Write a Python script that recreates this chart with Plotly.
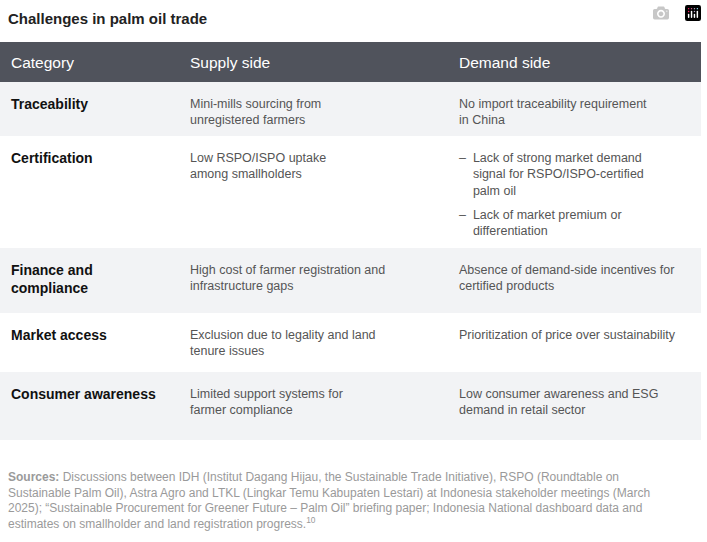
import plotly.graph_objects as go

title = "Challenges in palm oil trade"
headers = ["Category", "Supply side", "Demand side"]
categories = ["Traceability", "Certification", "Finance and<br>compliance", "Market access", "Consumer awareness"]
supply = ["Mini-mills sourcing from<br>unregistered farmers",
          "Low RSPO/ISPO uptake<br>among smallholders",
          "High cost of farmer registration and<br>infrastructure gaps",
          "Exclusion due to legality and land<br>tenure issues",
          "Limited support systems for<br>farmer compliance"]
demand = [["No import traceability requirement<br>in China"],
          ["–  Lack of strong market demand<br>    signal for RSPO/ISPO-certified<br>    palm oil",
           "–  Lack of market premium or<br>    differentiation"],
          ["Absence of demand-side incentives for<br>certified products"],
          ["Prioritization of price over sustainability"],
          ["Low consumer awareness and ESG<br>demand in retail sector"]]
row_edges = [82, 136, 248, 313, 372, 440]
col_x = [9, 188, 457]
source = ("<b>Sources:</b> Discussions between IDH (Institut Dagang Hijau, the Sustainable Trade Initiative), RSPO (Roundtable on<br>"
          "Sustainable Palm Oil), Astra Agro and LTKL (Lingkar Temu Kabupaten Lestari) at Indonesia stakeholder meetings (March<br>"
          "2025); “Sustainable Procurement for Greener Future – Palm Oil” briefing paper; Indonesia National dashboard data and<br>"
          "estimates on smallholder and land registration progress.<sup>10</sup>")

fig = go.Figure()
shapes, ann = [], []
F = "Liberation Sans, Arial, sans-serif"
shapes.append(dict(type="rect", x0=0, x1=701, y0=42, y1=82, fillcolor="#50535c", line_width=0, layer="below"))
for i in range(5):
    if i % 2 == 0:
        shapes.append(dict(type="rect", x0=0, x1=701, y0=row_edges[i], y1=row_edges[i+1],
                           fillcolor="#f2f3f5", line_width=0, layer="below"))
ann.append(dict(x=6, y=18, text="<b>"+title+"</b>", font=dict(size=15, color="#222", family=F)))
for h, x in zip(headers, col_x):
    ann.append(dict(x=x, y=62, text=h, font=dict(size=15.5, color="white", family=F)))
for i in range(5):
    top = row_edges[i] + 12
    ann.append(dict(x=col_x[0], y=top, text="<b>"+categories[i]+"</b>", yanchor="top",
                    font=dict(size=14, color="#111", family=F)))
    ann.append(dict(x=col_x[1], y=top+1, text=supply[i], yanchor="top",
                    font=dict(size=12.5, color="#555", family=F)))
    yy = top + 1
    for d in demand[i]:
        ann.append(dict(x=col_x[2], y=yy, text=d, yanchor="top",
                        font=dict(size=12.5, color="#555", family=F)))
        yy += 16 * (d.count("<br>") + 1) + 9
ann.append(dict(x=6, y=468, text=source, yanchor="top",
                font=dict(size=12, color="#9a9a9a", family=F)))
for a in ann:
    a.setdefault("yanchor", "middle")
    a.update(xref="x", yref="y", xanchor="left", showarrow=False, align="left")

fig.update_layout(width=707, height=542, margin=dict(l=0, r=0, t=0, b=0),
                  plot_bgcolor="white", paper_bgcolor="white", shapes=shapes, annotations=ann,
                  xaxis=dict(range=[0, 707], visible=False, fixedrange=True),
                  yaxis=dict(range=[542, 0], visible=False, fixedrange=True), showlegend=False)
fig.write_html("out.html", post_script="document.body.style.margin='0';document.body.style.overflow='hidden';")
